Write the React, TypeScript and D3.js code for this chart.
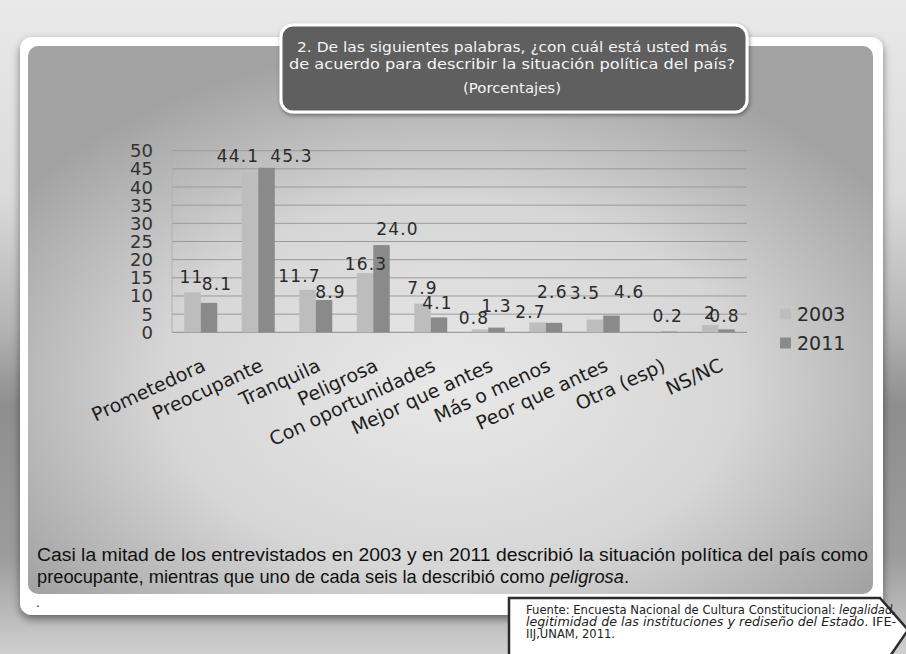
import React from 'react';
import * as d3 from 'd3';

// ---- data ----
const categories = [
  'Prometedora', 'Preocupante', 'Tranquila', 'Peligrosa', 'Con oportunidades',
  'Mejor que antes', 'Más o menos', 'Peor que antes', 'Otra (esp)', 'NS/NC',
];
const seriesNames = ['2003', '2011'];
const values2003: (number | null)[] = [11, 44.1, 11.7, 16.3, 7.9, 0.8, 2.7, 3.5, null, 2];
const values2011: (number | null)[] = [8.1, 45.3, 8.9, 24.0, 4.1, 1.3, 2.6, 4.6, 0.2, 0.8];
const labels2003 = ['11', '44.1', '11.7', '16.3', '7.9', '0.8', '2.7', '3.5', '', '2'];
const labels2011 = ['8.1', '45.3', '8.9', '24.0', '4.1', '1.3', '2.6', '4.6', '0.2', '0.8'];
const yTicks = [0, 5, 10, 15, 20, 25, 30, 35, 40, 45, 50];

// label nudges (layout only)
const labelDx2003 = [-1, -12, -8, 1, 0, -6, -7, -10, 0, 0];
const labelGap2003 = [9, 10, 8, 3, 10, 5, 4, 21, 0, 6];
const labelDx2011 = [8, 25, 6.5, 16, -1.5, 0, -1.6, 17.7, -1.3, -2];
const labelGap2011 = [12.6, 5.6, 2.3, 10, 8.3, 16, 24.6, 17.3, 10, 7.7];

const titleLines = [
  '2. De las siguientes palabras, ¿con cuál está usted más',
  'de acuerdo para describir la situación política del país?',
  '(Porcentajes)',
];

const SANS = "'DejaVu Sans', Verdana, sans-serif";
const NARROW = "'Liberation Sans Narrow', 'Arial Narrow', 'Liberation Sans', Arial, sans-serif";

export default function App() {
  const W = 906;
  const H = 654;
  const x0 = d3.scaleBand<string>().domain(categories).range([172, 747]);
  const x1 = d3.scaleBand<string>().domain(seriesNames).range([12.25, 45.25]);
  const y = d3.scaleLinear().domain([0, 50]).range([332.3, 150.7]);

  const series = [
    { name: '2003', values: values2003, labels: labels2003, dx: labelDx2003, gap: labelGap2003, color: '#bdbdbd' },
    { name: '2011', values: values2011, labels: labels2011, dx: labelDx2011, gap: labelGap2011, color: '#8a8a8a' },
  ];

  return (
    <svg width={W} height={H} viewBox={`0 0 ${W} ${H}`} style={{ position: 'absolute', left: 0, top: 0 }}>
      <defs>
        <linearGradient id="pageBg" x1="0" y1="0" x2="0" y2="1">
          <stop offset="0" stopColor="#e9e9e9" />
          <stop offset="0.3" stopColor="#dadada" />
          <stop offset="0.5" stopColor="#b4b4b4" />
          <stop offset="0.62" stopColor="#8e8e8e" />
          <stop offset="0.85" stopColor="#9c9c9c" />
          <stop offset="1" stopColor="#cfcfcf" />
        </linearGradient>
        <radialGradient id="panelBg" cx="0.5" cy="0.62" r="0.62">
          <stop offset="0" stopColor="#e8e8e8" />
          <stop offset="0.55" stopColor="#d6d6d6" />
          <stop offset="1" stopColor="#a2a2a2" />
        </radialGradient>
        <filter id="cardShadow" x="-5%" y="-5%" width="110%" height="115%">
          <feDropShadow dx="0" dy="4" stdDeviation="4" floodColor="#000" floodOpacity="0.45" />
        </filter>
        <filter id="boxShadow" x="-5%" y="-10%" width="110%" height="130%">
          <feDropShadow dx="1" dy="2" stdDeviation="2" floodColor="#000" floodOpacity="0.4" />
        </filter>
      </defs>

      <rect x={0} y={0} width={W} height={H} fill="url(#pageBg)" />

      {/* white card */}
      <rect x={20} y={37} width={863} height={578} rx={12} fill="#ffffff" filter="url(#cardShadow)" />
      {/* grey panel */}
      <rect x={28} y={46} width={845} height={548} rx={10} fill="url(#panelBg)" />

      {/* title box */}
      <rect x={281} y={25} width={466} height={87} rx={12} fill="#5e5e5e" stroke="#ffffff" strokeWidth={3} filter="url(#boxShadow)" />
      <g fontFamily="'DejaVu Sans Condensed', 'DejaVu Sans', sans-serif" fill="#f4f4f4" fontSize={14} textAnchor="middle">
        <text x={512} y={52} textLength={430} lengthAdjust="spacingAndGlyphs">{titleLines[0]}</text>
        <text x={512} y={69} textLength={446} lengthAdjust="spacingAndGlyphs">{titleLines[1]}</text>
        <text x={512} y={93} textLength={98} lengthAdjust="spacingAndGlyphs">{titleLines[2]}</text>
      </g>

      {/* gridlines */}
      <g>
        {yTicks.map((t) => (
          <line key={t} x1={172} x2={747} y1={y(t)} y2={y(t)} stroke={t === 0 ? '#8c8c8c' : '#9a9a9a'} strokeWidth={1} />
        ))}
        <line x1={172} x2={172} y1={y(50)} y2={y(0)} stroke="#b0b0b0" strokeWidth={1} />
      </g>

      {/* y tick labels */}
      <g fontFamily={SANS} fontSize={18} fill="#333" textAnchor="end">
        {yTicks.map((t) => (
          <text key={t} x={153} y={y(t)} dominantBaseline="central">{t}</text>
        ))}
      </g>

      {/* bars */}
      {series.map((s) => (
        <g key={s.name} fill={s.color}>
          {categories.map((c, i) => {
            const v = s.values[i];
            if (v === null) return null;
            return (
              <rect key={c} x={(x0(c) as number) + (x1(s.name) as number)} y={y(v)} width={x1.bandwidth()} height={y(0) - y(v)} />
            );
          })}
        </g>
      ))}

      {/* data labels */}
      {series.map((s) => (
        <g key={s.name + 'l'} fontFamily={SANS} fontSize={17} fill="#2a2a2a" textAnchor="middle" letterSpacing={1.2}>
          {categories.map((c, i) => {
            const v = s.values[i];
            if (v === null || !s.labels[i]) return null;
            const cx = (x0(c) as number) + (x1(s.name) as number) + x1.bandwidth() / 2 + s.dx[i];
            return (
              <text key={c} x={cx} y={y(v) - s.gap[i]}>{s.labels[i]}</text>
            );
          })}
        </g>
      ))}

      {/* x labels */}
      <g fontFamily={SANS} fontSize={19} fill="#1e1e1e" textAnchor="end">
        {categories.map((c) => {
          const cx = (x0(c) as number) + x0.bandwidth() / 2;
          return (
            <text key={c} transform={`translate(${cx + 6},370) rotate(-25)`}>{c}</text>
          );
        })}
      </g>

      {/* legend */}
      <g fontFamily={SANS} fontSize={19} fill="#2a2a2a">
        {series.map((s, i) => (
          <g key={s.name} transform={`translate(780,${314 + i * 29})`}>
            <rect x={0} y={-5.5} width={11} height={11} fill={s.color} />
            <text x={17} y={0} dominantBaseline="central">{s.name}</text>
          </g>
        ))}
      </g>

      {/* annotation */}
      <g fontFamily={NARROW} fontSize={18} fill="#111">
        <text x={37} y={561} textLength={831} lengthAdjust="spacingAndGlyphs">
          Casi la mitad de los entrevistados en 2003 y en 2011 describió la situación política del país como
        </text>
        <text x={37} y={583} textLength={592} lengthAdjust="spacingAndGlyphs">
          preocupante, mientras que uno de cada seis la describió como <tspan fontStyle="italic">peligrosa</tspan>.
        </text>
      </g>
      <text x={36} y={607} fontFamily={SANS} fontSize={12} fill="#111">.</text>

      {/* source box */}
      <path d="M509,598 L880,598 L908,630 L886,662 L509,662 Z" fill="#ffffff" stroke="#2b2b2b" strokeWidth={2.5} />
      <g fontFamily={SANS} fontSize={11.5} fill="#222">
        <text x={526} y={614} textLength={370} lengthAdjust="spacingAndGlyphs">
          Fuente: Encuesta Nacional de Cultura Constitucional: <tspan fontStyle="italic">legalidad,</tspan>
        </text>
        <text x={526} y={626} textLength={370} lengthAdjust="spacingAndGlyphs">
          <tspan fontStyle="italic">legitimidad de las instituciones y rediseño del Estado</tspan>. IFE-
        </text>
        <text x={526} y={638} textLength={89} lengthAdjust="spacingAndGlyphs">IIJ,UNAM, 2011.</text>
      </g>
    </svg>
  );
}
